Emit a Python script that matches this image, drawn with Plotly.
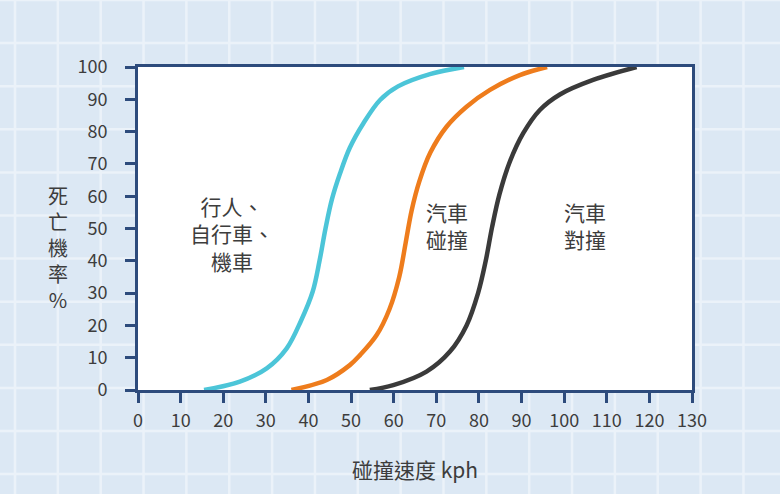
import plotly.graph_objects as go

# 死亡機率曲線 (讀圖估計值)
ped_speed = [15.5, 23.9, 30.2, 34.9, 38.2, 41.0, 42.6, 44.0, 45.5, 47.4, 49.7, 52.9, 56.8, 61, 68.5, 76.5]
ped_death = [0, 2.6, 6.7, 12.9, 21.3, 30.5, 40, 50, 59, 67, 75, 82.6, 89.8, 94, 97.8, 100]

car_speed = [36, 44.3, 49.7, 52.1, 56.0, 59.0, 61.3, 62.8, 64.2, 66.0, 68.6, 72.4, 77.1, 82.6, 89.6, 96]
car_death = [0, 3.1, 7.7, 10.8, 17, 25, 35, 45.5, 55.5, 64.5, 73.5, 81.5, 87.7, 92.9, 97.5, 100]

head_speed = [54.4, 59.9, 67.7, 73.2, 77.1, 79.8, 81.6, 83.1, 84.8, 87.2, 90.4, 94.3, 99, 106.8, 117]
head_death = [0, 1.5, 5.7, 11.9, 20, 30, 40, 50.5, 60.5, 70.5, 79.5, 86.7, 91.5, 96, 100]

x_ticks = list(range(0, 131, 10))
y_ticks = list(range(0, 101, 10))

labels = ["行人、<br>自行車、<br>機車", "汽車<br>碰撞", "汽車<br>對撞"]
label_x = [22, 72.5, 105]
label_y = [48.6, 51, 51]

font = "Noto Sans CJK TC"
navy = "#2d4b7c"
txt = "#3d3d3d"
W, H = 780, 494
L, R, T, B = 138, 88, 67, 104

fig = go.Figure()
for xs, ys, c in [(ped_speed, ped_death, "#4cc5d8"),
                  (car_speed, car_death, "#ee7c1c"),
                  (head_speed, head_death, "#3a3a3a")]:
    fig.add_trace(go.Scatter(x=xs, y=ys, mode="lines",
                             line=dict(color=c, width=4.5, shape="spline", smoothing=1.0),
                             showlegend=False, hoverinfo="skip"))

for t, x, y in zip(labels, label_x, label_y):
    fig.add_annotation(x=x, y=y, xref="x", yref="y", text=t, showarrow=False,
                       align="center", font=dict(family=font, size=21, color=txt))

# 直排的 y 軸標題
fig.add_annotation(x=(58 - L) / (W - L - R), y=(H - B - 247) / (H - T - B),
                   xref="paper", yref="paper", xanchor="center", yanchor="middle",
                   text="死<br>亡<br>機<br>率<br>%", showarrow=False, align="center",
                   font=dict(family=font, size=20, color=txt))

# 背景方格 (畫在繪圖區底下)
shapes = []
gx = 15.0
while gx < W:
    px = (gx - L) / (W - L - R)
    shapes.append(dict(type="line", xref="paper", yref="paper", x0=px, x1=px,
                       y0=-B / (H - T - B), y1=(H - B) / (H - T - B),
                       line=dict(color="#ebf2f9", width=2.5), layer="below"))
    gx += 42.85
gy = 0.0
while gy < H:
    py = (H - B - gy) / (H - T - B)
    shapes.append(dict(type="line", xref="paper", yref="paper", y0=py, y1=py,
                       x0=-L / (W - L - R), x1=(W - L) / (W - L - R),
                       line=dict(color="#ebf2f9", width=2.5), layer="below"))
    gy += 43.1
# 繪圖區保持白底
shapes.append(dict(type="rect", xref="paper", yref="paper", x0=0, x1=1, y0=0, y1=1,
                   fillcolor="white", line=dict(width=0), layer="below"))
fig.update_layout(shapes=shapes)

fig.update_layout(
    width=W, height=H,
    margin=dict(l=L, r=R, t=T, b=B),
    paper_bgcolor="#dce8f4",
    plot_bgcolor="white",
    font=dict(family=font, size=18, color=txt),
    xaxis=dict(range=[0, 130], tickvals=x_ticks, showgrid=False, zeroline=False,
               showline=True, linecolor=navy, linewidth=3, mirror=True,
               ticks="outside", ticklen=10, tickwidth=3, tickcolor=navy,
               ticklabelstandoff=2,
               title=dict(text="碰撞速度 kph", font=dict(size=21, color=txt), standoff=33)),
    yaxis=dict(range=[0, 100], tickvals=y_ticks, showgrid=False, zeroline=False,
               showline=True, linecolor=navy, linewidth=3, mirror=True,
               ticks="outside", ticklen=10, tickwidth=3, tickcolor=navy,
               ticklabelstandoff=14),
)

# 去掉頁面預設的 8px 邊距, 不顯示工具列
fig.write_html("out.html", config={"displayModeBar": False},
               post_script="document.body.style.margin='0';")
